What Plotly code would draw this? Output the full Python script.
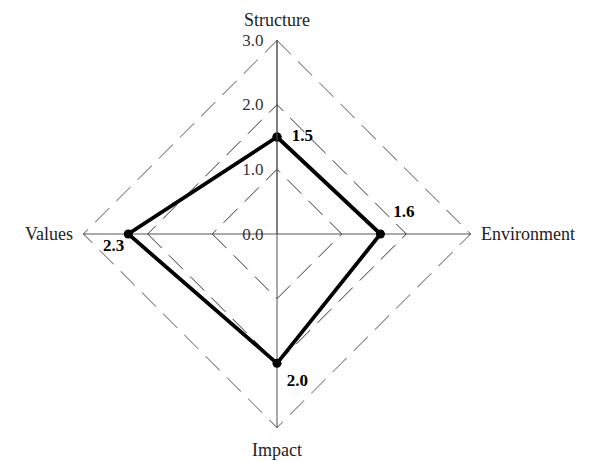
import plotly.graph_objects as go

categories = ["Structure", "Environment", "Impact", "Values"]
values = [1.5, 1.6, 2.0, 2.3]
value_labels = ["1.5", "1.6", "2.0", "2.3"]
label_positions = ["middle right", "top right", "bottom right", "bottom left"]
radial_ticks = [0.0, 1.0, 2.0, 3.0]

font_family = "Liberation Serif, Times New Roman, serif"
r_max = radial_ticks[-1]

fig = go.Figure()
# outer dashed ring at the top of the radial range (plotly omits the last grid line)
fig.add_trace(go.Scatterpolar(
    r=[r_max] * (len(categories) + 1),
    theta=categories + [categories[0]],
    mode="lines",
    line=dict(color="#333", width=1.2, dash="20px,10px"),
    showlegend=False,
    hoverinfo="skip",
))
fig.add_trace(go.Scatterpolar(
    r=values + [values[0]],
    theta=categories + [categories[0]],
    mode="lines+markers",
    line=dict(color="black", width=3.8),
    marker=dict(color="black", size=9),
    showlegend=False,
    hoverinfo="skip",
))
# value labels; invisible markers only set the text offset from each point
fig.add_trace(go.Scatterpolar(
    r=values,
    theta=categories,
    mode="markers+text",
    text=value_labels,
    textposition=label_positions,
    marker=dict(size=[22, 19, 14, 5], opacity=0, line=dict(width=0)),
    textfont=dict(family=font_family, size=17, color="black", weight="bold"),
    showlegend=False,
    hoverinfo="skip",
))

fig.update_layout(
    width=581,
    height=453,
    margin=dict(l=50, r=93, t=32, b=33, autoexpand=False),
    paper_bgcolor="white",
    plot_bgcolor="white",
    font=dict(family=font_family, size=18, color="#222"),
    polar=dict(
        bgcolor="white",
        gridshape="linear",
        angularaxis=dict(
            direction="clockwise",
            rotation=90,
            showline=False,
            showgrid=True,
            gridcolor="#555",
            gridwidth=1,
            ticks="outside",
            ticklen=6,
            tickcolor="rgba(0,0,0,0)",
            tickfont=dict(family=font_family, size=18, color="#222"),
        ),
        radialaxis=dict(
            range=[0, r_max],
            tickvals=radial_ticks,
            tickformat=".1f",
            angle=90,
            tickangle=90,
            side="counterclockwise",
            showline=True,
            linecolor="#555",
            linewidth=1,
            showgrid=True,
            gridcolor="#333",
            griddash="20px,10px",
            gridwidth=1.2,
            ticks="outside",
            ticklen=7,
            tickcolor="rgba(0,0,0,0)",
            tickfont=dict(family=font_family, size=17, color="#333"),
        ),
    ),
)

fig.write_html("out.html")
